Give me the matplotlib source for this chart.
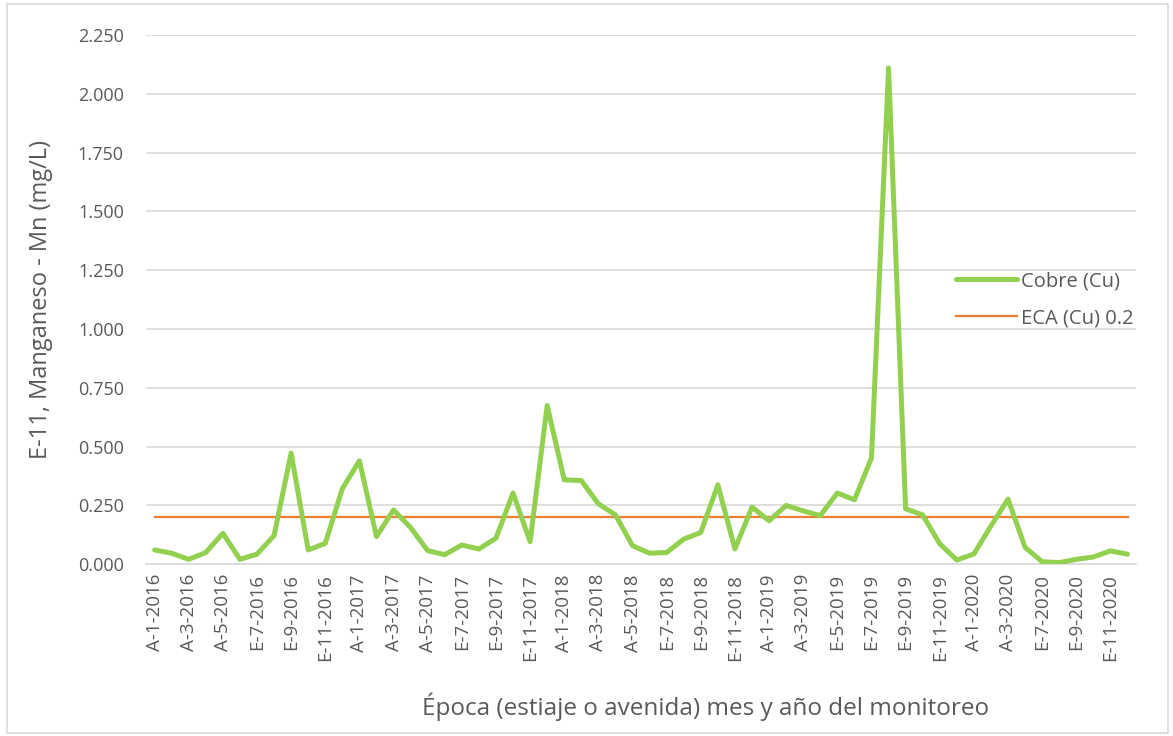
import matplotlib.pyplot as plt
from matplotlib.patches import Rectangle

plt.rcParams['font.family'] = ['Open Sans', 'DejaVu Sans']

# categories: season (A = avenida, E = estiaje) - month - year
months = ([f"A-{m}-2016" if m <= 5 else f"E-{m}-2016" for m in range(1, 13)] +
          [f"A-{m}-2017" if m <= 5 else f"E-{m}-2017" for m in range(1, 13)] +
          [f"A-{m}-2018" if m <= 5 else f"E-{m}-2018" for m in range(1, 13)] +
          [f"A-{m}-2019" if m <= 4 else f"E-{m}-2019" for m in range(1, 13)] +
          ["A-1-2020", "A-2-2020", "A-3-2020", "E-6-2020", "E-7-2020",
           "E-8-2020", "E-9-2020", "E-10-2020", "E-11-2020", "E-12-2020"])

cobre = [0.061, 0.047, 0.021, 0.050, 0.132, 0.021, 0.043, 0.122, 0.473, 0.061,
         0.089, 0.321, 0.440, 0.118, 0.231, 0.156, 0.058, 0.041, 0.082, 0.065,
         0.111, 0.303, 0.096, 0.675, 0.359, 0.356, 0.257, 0.210, 0.079, 0.047,
         0.050, 0.107, 0.135, 0.338, 0.065, 0.243, 0.185, 0.250, 0.227, 0.207,
         0.303, 0.274, 0.452, 2.110, 0.236, 0.210, 0.087, 0.018, 0.044, 0.163,
         0.277, 0.072, 0.011, 0.007, 0.021, 0.031, 0.057, 0.043]
eca = [0.2] * len(months)

yticks = [0.0, 0.25, 0.5, 0.75, 1.0, 1.25, 1.5, 1.75, 2.0, 2.25]

fig = plt.figure(figsize=(11.73, 7.36), dpi=100)
ax = fig.add_axes([0.1245, 0.2333, 0.844, 0.7191])

x = list(range(len(months)))
ax.plot(x, cobre, color='#92d050', linewidth=3.6, solid_joinstyle='round',
        solid_capstyle='round', label='Cobre (Cu)', zorder=3)
ax.plot(x, eca, color='#ed7d31', linewidth=1.6, label='ECA (Cu) 0.2', zorder=2)

ax.set_xlim(-0.5, len(months) - 0.5)
ax.set_ylim(0, 2.25)
ax.set_yticks(yticks)
ax.set_yticklabels([f"{v:.3f}" for v in yticks], color='#595959', fontsize=13)
ax.set_xticks(x[::2])
ax.set_xticklabels(months[::2], rotation=90, color='#595959', fontsize=13.5)
ax.tick_params(length=0, pad=7)
ax.tick_params(axis='y', pad=16)

ax.grid(axis='y', color='#d9d9d9', linewidth=1.2)
ax.set_axisbelow(True)
for s in ['top', 'right', 'left']:
    ax.spines[s].set_visible(False)
ax.spines['bottom'].set_color('#d9d9d9')
ax.spines['bottom'].set_linewidth(1.2)

ax.set_xlabel('Época (estiaje o avenida) mes y año del monitoreo',
              fontsize=17.5, color='#595959')
ax.xaxis.set_label_coords(0.565, -0.243)
ax.set_ylabel('E-11, Manganeso - Mn (mg/L)', fontsize=17, color='#595959',
              labelpad=18)

leg = ax.legend(loc='center left', bbox_to_anchor=(0.8, 0.5), frameon=False,
                fontsize=14.5, handlelength=3.0, handletextpad=0.2,
                labelspacing=0.85, labelcolor='#595959')

fig.patches.append(Rectangle((0.006, 0.004), 0.99, 0.99, transform=fig.transFigure,
                             fill=False, edgecolor='#d9d9d9', linewidth=1.2))

fig.savefig('out.png', dpi=100)
